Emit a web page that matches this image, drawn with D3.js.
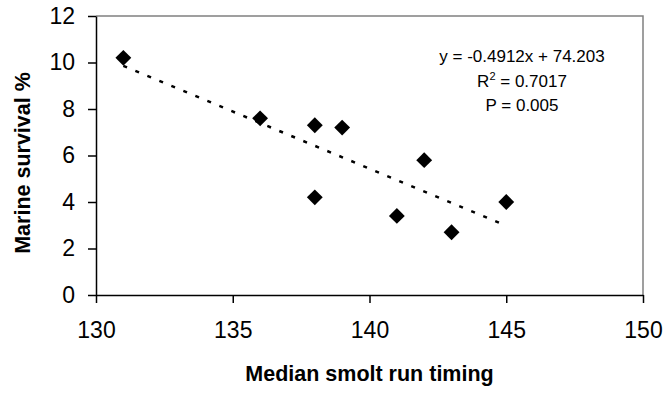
<!DOCTYPE html>
<html>
<head>
<meta charset="utf-8">
<script src="https://cdn.jsdelivr.net/npm/d3@7"></script>
<style>
  body { margin: 0; background: #fff; }
  text { font-family: Arial, "Liberation Sans", sans-serif; }
</style>
</head>
<body>
<div id="chart"></div>
<script>
// median smolt run timing (day of year) vs marine survival
var timing = [131, 136, 138, 138, 139, 141, 142, 143, 145];
var survival = [10.2, 7.6, 7.3, 4.2, 7.2, 3.4, 5.8, 2.7, 4.0];
var xTicks = [130, 135, 140, 145, 150];
var yTicks = [0, 2, 4, 6, 8, 10, 12];
var slope = -0.4912, intercept = 74.203;
var statLines = ["y = -0.4912x + 74.203", "R2 = 0.7017", "P = 0.005"];

var width = 665, height = 393;
var margin = {top: 16, right: 22, bottom: 98, left: 96};

var svg = d3.select("#chart").append("svg")
    .attr("width", width)
    .attr("height", height);

var x = d3.scaleLinear().domain([130, 150]).range([margin.left, width - margin.right]);
var y = d3.scaleLinear().domain([0, 12]).range([height - margin.bottom, margin.top]);

// grey frame on top/right
svg.append("path")
    .attr("d", "M" + x(130) + "," + y(12) + "H" + x(150) + "V" + y(0))
    .attr("fill", "none")
    .attr("stroke", "#808080")
    .attr("stroke-width", 1.5);

var xAxis = svg.append("g")
    .attr("transform", "translate(0," + y(0) + ")")
    .call(d3.axisBottom(x).tickValues(xTicks).tickSizeInner(8).tickSizeOuter(0).tickPadding(19));
var yAxis = svg.append("g")
    .attr("transform", "translate(" + x(130) + ",0)")
    .call(d3.axisLeft(y).tickValues(yTicks).tickSizeInner(8).tickSizeOuter(0).tickPadding(13));

svg.selectAll(".domain, .tick line").attr("stroke", "#000").attr("stroke-width", 1.5);
svg.selectAll(".tick text").attr("font-size", 23).attr("fill", "#000")
    .attr("font-family", "Arial, 'Liberation Sans', sans-serif");

// trendline
svg.append("line")
    .attr("x1", x(131)).attr("y1", y(slope * 131 + intercept))
    .attr("x2", x(145)).attr("y2", y(slope * 145 + intercept))
    .attr("stroke", "#000")
    .attr("stroke-width", 2.5)
    .attr("stroke-dasharray", "4,9");

// points
svg.selectAll(".pt")
    .data(timing)
    .enter().append("path")
    .attr("class", "pt")
    .attr("d", d3.symbol().type(d3.symbolDiamond2).size(160))
    .attr("transform", function(d, i) { return "translate(" + x(d) + "," + y(survival[i]) + ")"; })
    .attr("fill", "#000");

// regression stats
var stats = svg.append("g").attr("font-size", 17).attr("text-anchor", "middle");
statLines.forEach(function(s, i) {
    var t = stats.append("text")
        .attr("x", 522)
        .attr("y", 62 + i * 24.5);
    if (s.indexOf("R2") === 0) {
        t.append("tspan").text("R");
        t.append("tspan").attr("dy", -7).attr("font-size", 11).text("2");
        t.append("tspan").attr("dy", 7).text(s.slice(2));
    } else {
        t.text(s);
    }
});

// axis titles
svg.append("text")
    .attr("x", (x(130) + x(150)) / 2)
    .attr("y", 381)
    .attr("text-anchor", "middle")
    .attr("font-weight", "bold")
    .attr("font-size", 21.5)
    .text("Median smolt run timing");

svg.append("text")
    .attr("transform", "translate(30,163) rotate(-90)")
    .attr("text-anchor", "middle")
    .attr("font-weight", "bold")
    .attr("font-size", 21.5)
    .text("Marine survival %");
</script>
</body>
</html>
